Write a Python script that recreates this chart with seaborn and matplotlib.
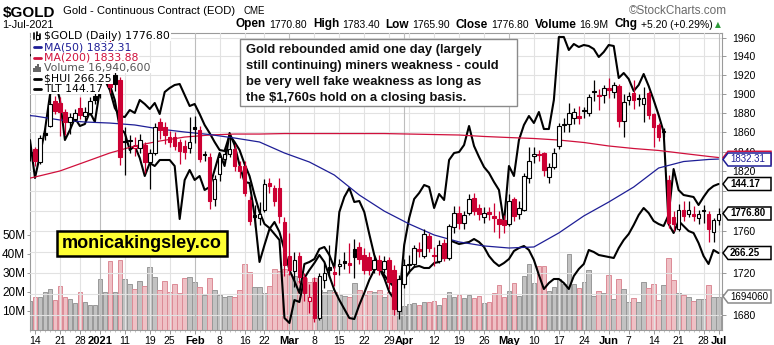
import numpy as np
import pandas as pd
import matplotlib
matplotlib.use('Agg')
import matplotlib.pyplot as plt
import seaborn as sns
from matplotlib.patches import Polygon, Rectangle
from matplotlib.lines import Line2D
from matplotlib.transforms import IdentityTransform
import matplotlib.ticker as mticker

# ---------------------------------------------------------------- data
holidays = ['2020-12-25', '2021-01-01', '2021-01-18', '2021-02-15', '2021-04-02', '2021-05-31']

open_ = [1838, 1843, 1829, 1858.5, 1866.5, 1892.5, 1890.5, 1881, 1870, 1873.5,
         1885, 1877, 1880, 1897.5, 1901, 1943, 1951, 1920.5, 1915, 1851,
         1850.5, 1844, 1844, 1846.5, 1829, 1839, 1870.5, 1865.5, 1855, 1854.5,
         1849.5, 1845.5, 1844, 1864, 1862.5, 1837, 1834, 1792.5, 1817, 1832,
         1837.5, 1843, 1825.5, 1825, 1791.5, 1775, 1773, 1781.5, 1808.5, 1803.5,
         1803.5, 1769.5, 1736, 1722, 1736, 1716, 1693.5, 1711, 1677.5, 1713,
         1725, 1721, 1726, 1730, 1729, 1742.5, 1745, 1737.5, 1735, 1724,
         1732, 1724, 1732, 1723, 1684, 1709, 1728.5, 1728, 1742.5, 1736,
         1755.5, 1737.5, 1731.5, 1749, 1734.5, 1764, 1778.5, 1768.5, 1778.5, 1793.5,
         1783.5, 1774.5, 1779.5, 1775, 1772.5, 1771.5, 1767, 1792, 1777, 1781.5,
         1813, 1835, 1837.5, 1838, 1814.5, 1824.5, 1845.5, 1867, 1868, 1875,
         1876.5, 1882, 1880, 1903, 1899, 1899, 1906.5, 1901.5, 1908.5, 1872,
         1893.5, 1900.5, 1895, 1889.5, 1901, 1878.5, 1867, 1860, 1811, 1774,
         1762.5, 1781.5, 1777.5, 1777, 1773.5, 1781, 1777.5, 1759.5, 1770.8]
high = [1848, 1845, 1857, 1864, 1899.5, 1897.5, 1896.5, 1884, 1880, 1884,
        1897, 1886, 1897, 1905, 1945, 1957, 1958, 1926, 1918, 1865,
        1857, 1855, 1858, 1850, 1843, 1869, 1875, 1870, 1861, 1860,
        1853, 1852, 1876, 1876.5, 1866, 1841, 1838, 1816, 1838, 1845,
        1855, 1848, 1830, 1830, 1795, 1786, 1789, 1812, 1813.5, 1806,
        1813.5, 1774, 1758, 1740, 1740, 1720, 1709, 1716, 1720, 1729,
        1747, 1726, 1733, 1740, 1749, 1753, 1750, 1744, 1740, 1737,
        1737, 1736, 1735, 1727, 1718, 1733, 1737, 1747, 1750, 1762,
        1758, 1745, 1752, 1753, 1767, 1785, 1785, 1780, 1797, 1798,
        1787, 1784, 1784, 1788.5, 1780, 1776, 1797, 1794, 1790, 1818,
        1845, 1845, 1842, 1840, 1828, 1844, 1869, 1875, 1890, 1885,
        1887, 1886, 1900, 1915, 1905, 1909, 1917, 1913, 1911, 1900,
        1902, 1914.5, 1900, 1907.5, 1903, 1880, 1869, 1864, 1816, 1780,
        1787, 1790, 1790, 1785, 1781, 1786, 1780, 1773, 1783.4]
low = [1830, 1825, 1827, 1852, 1865, 1879, 1855.5, 1856.5, 1858, 1872,
       1874, 1872, 1878, 1889, 1896, 1935, 1901, 1903, 1826, 1816.5,
       1838, 1835, 1838, 1818, 1802, 1836, 1853, 1848, 1845, 1842,
       1827, 1832, 1838, 1849, 1829, 1830, 1782, 1785, 1810, 1828,
       1834, 1820, 1813, 1795, 1766, 1764, 1766, 1779, 1798.5, 1785,
       1768, 1717, 1718, 1706, 1710, 1693, 1682, 1673, 1675, 1705,
       1716, 1707, 1718, 1724, 1720, 1715, 1728, 1719, 1718, 1720,
       1718, 1720, 1704, 1680, 1676, 1705, 1720, 1725, 1735, 1734,
       1740, 1726.5, 1729, 1731, 1732, 1758, 1762, 1762, 1776, 1776,
       1771, 1768, 1771, 1759, 1754, 1758, 1765, 1770, 1772, 1780,
       1808, 1828, 1830, 1815, 1808, 1822, 1843, 1860, 1860, 1868,
       1868, 1875, 1877, 1893, 1883, 1890, 1896, 1896, 1865, 1855,
       1888, 1884, 1887, 1870, 1874, 1844.5, 1851, 1855, 1763, 1760,
       1760, 1770, 1774, 1770, 1767, 1768, 1750, 1750, 1765.9]
close = [1840, 1830, 1854, 1857.5, 1889, 1882, 1881, 1870, 1876, 1880,
         1878, 1881, 1892.5, 1893.5, 1943, 1952, 1907, 1911, 1834, 1850,
         1851.5, 1845, 1851.5, 1829, 1839, 1865, 1862, 1857.5, 1850, 1845.5,
         1840.5, 1840, 1849.5, 1863.5, 1832, 1836, 1790, 1812, 1834, 1837.5,
         1842.5, 1825, 1820.5, 1798, 1770, 1774.5, 1777, 1807, 1805.5, 1790,
         1775, 1727, 1722.5, 1732, 1715.5, 1700.5, 1696.5, 1677.5, 1717, 1720,
         1723, 1719, 1728.5, 1729.5, 1727, 1735, 1733, 1723, 1722.5, 1732,
         1723, 1731, 1711.5, 1685.5, 1713.5, 1727, 1727.5, 1743.5, 1740.5, 1757.5,
         1744, 1736, 1747, 1734.5, 1765.5, 1778.5, 1768.5, 1776.5, 1792, 1780,
         1777, 1778.5, 1777.5, 1773, 1767, 1766, 1790.5, 1775, 1783, 1815.5,
         1830, 1837, 1836, 1821, 1824.5, 1838, 1866, 1867.5, 1880, 1881,
         1875, 1882.5, 1896.5, 1902, 1897.5, 1906, 1904.5, 1909, 1872, 1891.5,
         1897.5, 1893.5, 1894.5, 1895.5, 1878, 1865, 1854.5, 1860.5, 1768, 1767,
         1781.5, 1775, 1781.5, 1775, 1777, 1780, 1762, 1771.6, 1776.8]
volume_m = [15.0, 16.9, 16.9, 19.6, 21.1, 15.5, 22.9, 17.3, 15.9, 13.8,
            19.6, 14.6, 12.9, 12.9, 26.6, 19.6, 36.2, 19.6, 36.6, 26.6,
            23.9, 21.1, 25.7, 22.9, 32.7, 27.8, 20.8, 25.7, 19.9, 23.9,
            19.0, 26.9, 27.5, 25.2, 22.5, 18.2, 26.9, 20.8, 18.2, 17.3,
            17.6, 16.9, 20.8, 34.5, 30.4, 22.5, 22.5, 19.4, 22.9, 32.0,
            30.8, 31.7, 29.0, 28.2, 25.5, 27.0, 25.0, 27.0, 21.0, 20.0,
            21.0, 19.5, 18.0, 17.5, 17.0, 24.5, 21.0, 18.0, 20.5, 20.0,
            21.0, 17.0, 19.5, 18.0, 15.0, 12.5, 13.5, 14.0, 13.0, 14.5,
            14.5, 15.0, 13.0, 16.8, 19.7, 17.1, 18.0, 16.8, 18.0, 16.8,
            17.6, 14.1, 14.5, 19.4, 23.3, 17.3, 20.3, 24.6, 17.6, 28.2,
            34.3, 24.6, 33.4, 33.4, 20.3, 22.5, 26.7, 23.8, 39.6, 23.8,
            22.0, 25.0, 31.3, 17.6, 20.3, 19.0, 28.5, 15.9, 26.8, 21.1,
            14.5, 16.8, 14.5, 25.0, 21.7, 23.8, 15.3, 23.2, 37.5, 25.9,
            19.0, 18.0, 17.1, 15.0, 15.9, 15.9, 23.2, 17.1, 16.94]
hui = [294.5, 285.0, 290.75, 297.0, 305.75, 309.5, 304.5, 294.5, 297.0, 300.0,
       298.0, 298.5, 301.5, 299.0, 307.0, 311.5, 308.25, 304.5, 297.5, 296.25,
       292.0, 293.0, 290.0, 285.5, 288.75, 288.0, 289.5, 289.5, 289.5, 288.0,
       274.75, 284.5, 287.0, 284.5, 285.5, 282.0, 282.75, 287.0, 291.25, 288.0,
       296.25, 293.25, 288.25, 284.0, 283.75, 275.75, 264.0, 268.25, 272.25, 274.0,
       271.5, 267.0, 262.0, 259.25, 256.25, 263.5, 264.0, 264.75, 267.25, 267.75,
       265.75, 262.5, 276.5, 280.25, 282.5, 279.0, 279.25, 276.5, 271.0, 265.75,
       262.5, 260.0, 256.5, 254.75, 254.5, 268.25, 275.0, 279.75, 281.25, 283.25,
       282.75, 277.5, 281.0, 279.5, 289.5, 291.25, 291.5, 293.25, 298.0, 293.0,
       290.25, 287.75, 286.25, 284.0, 282.0, 273.75, 288.0, 285.5, 294.5, 298.25,
       300.5, 298.75, 301.5, 297.25, 297.25, 304.5, 320.25, 320.25, 317.0, 318.5,
       317.75, 318.25, 318.0, 317.25, 315.25, 316.5, 318.25, 318.0, 310.0, 311.25,
       309.75, 306.75, 308.25, 311.0, 308.0, 304.5, 300.75, 296.5, 273.5, 271.25,
       274.25, 273.0, 271.75, 271.25, 268.75, 265.5, 263.5, 267.0, 266.25]
tlt = [154.49, 154.25, 154.09, 153.93, 154.09, 154.25, 154.09, 153.93, 153.85, 153.93,
       154.09, 154.09, 153.93, 153.69, 153.29, 152.49, 151.69, 150.25, 149.61, 149.53,
       150.09, 149.85, 150.89, 150.57, 150.17, 150.65, 149.77, 151.53, 151.85, 152.09,
       152.17, 151.29, 150.41, 150.57, 149.77, 148.89, 148.25, 147.53, 146.89, 146.81,
       148.09, 147.53, 146.89, 145.77, 144.81, 143.29, 141.93, 140.97, 140.65, 140.17,
       139.69, 133.45, 133.05, 134.89, 134.73, 136.65, 137.29, 137.85, 138.49, 137.93,
       136.81, 135.69, 134.89, 134.17, 133.45, 133.37, 134.49, 135.45, 136.49, 137.29,
       137.53, 136.89, 136.33, 135.93, 135.93, 136.49, 137.13, 137.53, 137.61, 137.45,
       137.45, 137.85, 137.93, 138.49, 139.69, 139.53, 139.37, 139.45, 139.53, 139.77,
       139.53, 139.13, 138.41, 137.93, 137.61, 137.85, 138.17, 138.81, 139.05, 139.21,
       138.89, 138.09, 136.89, 135.77, 136.25, 136.57, 136.57, 136.25, 135.77, 136.81,
       137.37, 137.77, 138.89, 138.73, 138.49, 138.41, 138.33, 138.25, 139.05, 139.69,
       140.17, 140.89, 141.69, 142.25, 141.85, 141.21, 140.97, 140.81, 141.69, 145.37,
       143.69, 143.29, 143.21, 143.13, 142.49, 143.13, 143.69, 144.01, 144.17]
ma_dates = ['2020-12-11', '2020-12-14', '2020-12-21', '2020-12-29', '2021-01-06', '2021-01-13',
            '2021-01-21', '2021-01-28', '2021-02-04', '2021-02-11', '2021-02-19', '2021-02-26',
            '2021-03-05', '2021-03-12', '2021-03-19', '2021-03-26', '2021-04-05', '2021-04-12',
            '2021-04-19', '2021-04-26', '2021-05-03', '2021-05-10', '2021-05-17', '2021-05-24',
            '2021-06-01', '2021-06-08', '2021-06-15', '2021-06-22', '2021-06-29', '2021-07-01']
ma50 = [1877.2, 1876.7, 1872.6, 1870.5, 1869.4, 1867.4, 1863.2, 1860.1, 1857.5, 1853.9,
        1849.8, 1838.5, 1829.3, 1816.1, 1796.0, 1780.0, 1767.3, 1756.5, 1749.7, 1745.8,
        1743.8, 1744.8, 1758.5, 1775.2, 1789.0, 1804.0, 1823.2, 1829.8, 1831.9, 1832.31]
ma200 = [1813.0, 1814.1, 1820.2, 1829.3, 1838.5, 1845.7, 1850.8, 1854.9, 1857.0, 1858.0,
         1858.0, 1858.5, 1858.5, 1858.5, 1858.5, 1858.5, 1858.0, 1857.5, 1857.0, 1855.5,
         1854.4, 1853.4, 1851.8, 1849.3, 1845.7, 1843.1, 1841.1, 1838.0, 1835.0, 1833.88]
tick_dates = ['2020-12-14', '2020-12-21', '2020-12-28', '2021-01-04', '2021-01-11', '2021-01-19',
              '2021-01-25', '2021-02-01', '2021-02-08', '2021-02-16', '2021-02-22', '2021-03-01',
              '2021-03-08', '2021-03-15', '2021-03-22', '2021-03-29', '2021-04-01', '2021-04-12',
              '2021-04-19', '2021-04-26', '2021-05-03', '2021-05-10', '2021-05-17', '2021-05-24',
              '2021-06-01', '2021-06-07', '2021-06-14', '2021-06-21', '2021-06-28', '2021-07-01']
tick_labels = ['14', '21', '28', '2021', '11', '19', '25', 'Feb', '8', '16', '22', 'Mar',
               '8', '15', '22', '29', 'Apr', '12', '19', '26', 'May', '10', '17', '24',
               'Jun', '7', '14', '21', '28', 'Jul']
bold_labels = ['2021', 'Feb', 'Mar', 'Apr', 'May', 'Jun', 'Jul']
price_grid = [1680, 1700, 1720, 1740, 1760, 1780, 1800, 1820, 1840, 1860, 1880, 1900, 1920, 1940, 1960]
price_labels = [1680, 1720, 1760, 1820, 1840, 1860, 1880, 1900, 1920, 1940, 1960]
vol_ticks = [10, 20, 30, 40, 50]

# ---------------------------------------------------------------- setup
sns.set_theme(style='white')
plt.rcParams['font.family'] = ['Liberation Sans', 'DejaVu Sans']

RED = '#cc0033'
NAVY = '#1e1e96'
MA200C = '#d0103c'
PINK, PINK_E = '#efc0c5', '#dc8b96'
GRAY, GRAY_E = '#c2c2c2', '#989898'
GRID, GRID_M = '#e2e2e2', '#bdbdbd'

days = pd.bdate_range('2020-12-11', '2021-07-01')
days = days[~days.isin(pd.to_datetime(holidays))]
n = len(days)
xi = np.arange(n)
idx = {d.strftime('%Y-%m-%d'): i for i, d in enumerate(days)}

W, H = 774, 345
fig = plt.figure(figsize=(W / 100, H / 100), dpi=100)
fig.patch.set_facecolor('white')
PL, PR, PT, PB = 30, 722, 33, 330
rect = [PL / W, 1 - PB / H, (PR - PL) / W, (PB - PT) / H]

ax_v = fig.add_axes(rect)
ax_g = ax_v.twinx()
ax_h = ax_v.twinx()
ax_t = ax_v.twinx()
ax_p = ax_v.twinx()

P_LO, P_HI = 1666.0, 1965.5
XL = (0.3, 138.7)

o = np.array(open_, float); c = np.array(close, float)
hi = np.array(high, float); lo = np.array(low, float)
prev = np.r_[c[0], c[:-1]]
down = c < prev

# volume
vcol = np.where(down, PINK, GRAY)
vedge = np.where(down, PINK_E, GRAY_E)
ax_v.bar(xi, volume_m, width=0.92, color=vcol, edgecolor=vedge, linewidth=0.7, zorder=2)
ax_v.set_ylim(-0.26, 156.05)
ax_v.set_facecolor('white')

# grid
ax_g.set_yscale('log')
for p in price_grid:
    ax_g.axhline(p, color=GRID, lw=0.8, zorder=1)
mon = [i for i in range(1, n) if days[i].month != days[i - 1].month]
wk = [i for i in range(1, n) if days[i].isocalendar()[1] != days[i - 1].isocalendar()[1] and i not in mon]
for i in wk:
    ax_g.axvline(i, color=GRID, lw=0.8, zorder=1)
for i in mon:
    ax_g.axvline(i, color=GRID_M, lw=0.8, zorder=1)
ax_g.set_ylim(P_LO, P_HI)

# overlays
sns.lineplot(x=xi, y=hui, ax=ax_h, color='black', linewidth=1.5, legend=False)
ax_h.set_ylim(247.0, 321.25)
sns.lineplot(x=xi, y=tlt, ax=ax_t, color='black', linewidth=1.5, legend=False)
ax_t.set_ylim(132.49, 156.25)

# price
ax_p.set_yscale('log')
mx = [idx[d] for d in ma_dates]
sns.lineplot(x=mx, y=ma200, ax=ax_p, color=MA200C, linewidth=0.9, legend=False)
sns.lineplot(x=mx, y=ma50, ax=ax_p, color=NAVY, linewidth=0.9, legend=False)
ecol = np.where(down, RED, 'black')
hollow = c > o
face = np.where(hollow, 'white', ecol)
blo = np.minimum(o, c)
bhi = np.maximum(np.maximum(o, c), blo + 1.3)
ax_p.vlines(xi, lo, hi, colors=ecol, linewidth=0.9, zorder=3)
ax_p.bar(xi, bhi - blo, bottom=blo, width=0.72, color=face, edgecolor=ecol, linewidth=0.8, zorder=4)
ax_p.set_ylim(P_LO, P_HI)

for a in (ax_v, ax_g, ax_h, ax_t, ax_p):
    a.set_xlim(*XL)
    a.set_xlabel(''); a.set_ylabel('')
for a in (ax_g, ax_h, ax_t, ax_p):
    for s in a.spines.values():
        s.set_visible(False)
for a in (ax_g, ax_h, ax_t):
    a.set_yticks([])
    a.yaxis.set_minor_locator(mticker.NullLocator())
    a.tick_params(axis='y', which='both', right=False, left=False, labelright=False)
for s in ax_v.spines.values():
    s.set_color('#9a9a9a'); s.set_linewidth(0.8)

# ticks
ax_v.set_yticks(vol_ticks)
ax_v.set_yticklabels([f'{v}M' for v in vol_ticks])
ax_v.tick_params(axis='y', left=True, length=2, width=0.6, color='#888888', pad=1.5,
                 labelsize=8.5, labelcolor='black')
ax_v.set_xticks([idx[d] for d in tick_dates])
ax_v.set_xticklabels(tick_labels)
ax_v.set_xticks(xi, minor=True)
ax_v.tick_params(axis='x', which='major', bottom=True, length=3, width=0.6, color='#888888',
                 pad=1, labelsize=7.5, labelcolor='black')
ax_v.tick_params(axis='x', which='minor', bottom=True, length=1.5, width=0.5, color='#aaaaaa')
for t in ax_v.get_xticklabels():
    if t.get_text() in bold_labels:
        t.set_fontweight('bold'); t.set_fontsize(8)

ax_p.yaxis.set_major_locator(mticker.FixedLocator(price_grid))
ax_p.yaxis.set_minor_locator(mticker.NullLocator())
ax_p.yaxis.set_major_formatter(mticker.FuncFormatter(
    lambda v, p: f'{v:.0f}' if int(round(v)) in price_labels else ''))
ax_p.tick_params(axis='y', which='major', right=True, length=3, width=0.6, color='#888888',
                 pad=4, labelsize=7.5, labelcolor='black')

# ---------------------------------------------------------------- annotations
ID = IdentityTransform()


def T(x, y, s, **kw):
    kw.setdefault('va', 'center')
    kw.setdefault('ha', 'left')
    return fig.text(x / W, 1 - y / H, s, **kw)


def box(x0, y0, x1, y1, **kw):
    r = Rectangle((x0, H - y1), x1 - x0, y1 - y0, transform=ID, **kw)
    fig.add_artist(r)
    return r


renderer = fig.canvas.get_renderer()

# legend (white backgrounds hide what lies behind)
LF = dict(family='DejaVu Sans', fontsize=7.8)
legend_rows = [
    (36.0, '$GOLD (Daily) 1776.80', 'black', 'candle'),
    (47.0, 'MA(50) 1832.31', NAVY, NAVY),
    (57.5, 'MA(200) 1833.88', MA200C, MA200C),
    (68.0, 'Volume 16,940,600', '#555555', 'vol'),
    (78.5, '$HUI 266.25', 'black', 'black'),
    (89.0, 'TLT 144.17', 'black', 'black'),
]
for yc, s, col, icon in legend_rows:
    t = T(44, yc, s, color=col, zorder=6, **LF)
    bb = t.get_window_extent(renderer)
    box(31, yc - 5.3, bb.x1 + 1, yc + 5.3, facecolor='white', edgecolor='none', zorder=5)
    if icon == 'candle':
        for xx, a, b in [(34, 33, 39), (37, 32, 40), (40, 34, 39)]:
            fig.add_artist(Line2D([xx, xx], [H - b, H - a], transform=ID, color='black', lw=1.2, zorder=7))
        fig.add_artist(Rectangle((36, H - 38.5), 2.5, 4, transform=ID, facecolor='white',
                                 edgecolor='black', lw=0.8, zorder=7))
    elif icon == 'vol':
        for xx, hh in [(34, 4), (36, 6), (38, 8), (40, 5)]:
            fig.add_artist(Rectangle((xx - 0.7, H - yc - 4), 1.4, hh, transform=ID,
                                     facecolor='#666666', edgecolor='none', zorder=7))
    else:
        fig.add_artist(Line2D([34, 41], [H - yc, H - yc], transform=ID, color=icon, lw=2.0, zorder=7))

# header
T(3, 16.5, '$GOLD', va='baseline', fontsize=11, fontweight='bold', color='black')
T(63, 14.5, 'Gold - Continuous Contract (EOD)', va='baseline', fontsize=8.1, color='black')
T(243, 14.5, 'CME', va='baseline', fontsize=7, color='black')
T(2, 28, '1-Jul-2021', va='baseline', fontsize=7.8, color='black')
T(727, 11, '\u00a9StockCharts.com', ha='right', fontsize=8.5, color='#6a6a6a')

B = dict(fontsize=8.5, fontweight='bold', color='black')
R = dict(fontsize=7.5, color='black')
parts = [('Open', B, 0), ('1770.80', R, 3), ('High', B, 6), ('1783.40', R, 3), ('Low', B, 6),
         ('1765.90', R, 3), ('Close', B, 6), ('1776.80', R, 3), ('Volume', B, 6), ('16.9M', R, 3),
         ('Chg', B, 6), ('+5.20 (+0.29%)', R, 3)]
xcur = 236
for s, kw, gap in parts:
    xcur += gap
    t = T(xcur, 27.5, s, va='baseline', **kw)
    xcur = t.get_window_extent(renderer).x1
T(xcur + 3, 27, '\u25b2', va='baseline', fontsize=5.5, color='#2e9a3a', family='DejaVu Sans')

# comment box
box(240, 39, 517, 106, facecolor='white', edgecolor='#8a8a8a', lw=1.0, zorder=5)
for yc, s in zip([50.5, 66.5, 82.0, 98.0],
                 ['Gold rebounded amid one day (largely', 'still continuing) miners weakness - could',
                  'be very well fake weakness as long as', 'the $1,760s hold on a closing basis.']):
    T(246, yc, s, fontsize=9.4, fontweight='bold', color='#111111', zorder=6)

# website box
box(57, 231, 227, 256, facecolor='#ffff33', edgecolor='black', lw=1.8, zorder=5)
T(142, 244, 'monicakingsley.co', ha='center', fontsize=13, fontweight='bold', color='black', zorder=6)


# right value tags
def tag(yc, s, edge, tcol, weight):
    x0, xt, x1, hh = 723, 728, 771, 6.5
    pts = [(x0, H - yc), (xt, H - yc + hh), (x1, H - yc + hh), (x1, H - yc - hh), (xt, H - yc - hh)]
    fig.add_artist(Polygon(pts, closed=True, transform=ID, facecolor='white', edgecolor=edge,
                           lw=1.1, zorder=5))
    if s:
        T(xt + 2, yc, s, fontsize=7, fontweight=weight, color=tcol, zorder=6)


tag(157.8, '', MA200C, MA200C, 'normal')
tag(159.5, '1832.31', NAVY, NAVY, 'normal')
tag(184.0, '144.17', 'black', 'black', 'bold')
tag(213.5, '1776.80', 'black', 'black', 'bold')
tag(253.0, '266.25', 'black', 'black', 'bold')
tag(296.5, '1694060', '#8a8a8a', 'black', 'normal')

fig.savefig('out.png', dpi=100, facecolor='white')
